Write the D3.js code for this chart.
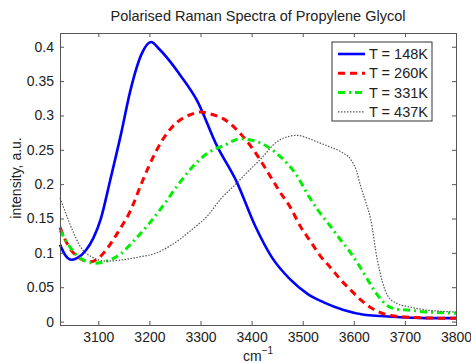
<!DOCTYPE html>
<html>
<head>
<meta charset="utf-8">
<script src="https://cdn.jsdelivr.net/npm/d3@7"></script>
<style>
  body { margin: 0; background: #fff; }
  text { font-family: "Liberation Sans", Arial, sans-serif; fill: #222; }
</style>
</head>
<body>
<div id="chart"></div>
<script>
// wavenumber / intensity pairs
var wn148 = [3025, 3035, 3048, 3060, 3075, 3090, 3105, 3123, 3145, 3162, 3185, 3203, 3220, 3241, 3260, 3293, 3332, 3371, 3407, 3440, 3476, 3510, 3541, 3580, 3620, 3652, 3700, 3750, 3800];
var i148 = [0.112, 0.097, 0.090, 0.093, 0.103, 0.121, 0.150, 0.205, 0.275, 0.334, 0.390, 0.407, 0.396, 0.378, 0.359, 0.322, 0.256, 0.203, 0.139, 0.093, 0.061, 0.040, 0.028, 0.017, 0.010, 0.008, 0.006, 0.005, 0.005];

var wn260 = [3025, 3040, 3060, 3084, 3100, 3116, 3140, 3162, 3185, 3200, 3227, 3254, 3280, 3300, 3320, 3345, 3380, 3411, 3436, 3456, 3476, 3495, 3515, 3535, 3555, 3574, 3595, 3613, 3632, 3652, 3680, 3720, 3760, 3800];
var i260 = [0.137, 0.112, 0.094, 0.087, 0.092, 0.105, 0.132, 0.160, 0.202, 0.228, 0.266, 0.290, 0.301, 0.305, 0.302, 0.295, 0.272, 0.242, 0.212, 0.188, 0.166, 0.139, 0.117, 0.095, 0.078, 0.061, 0.045, 0.032, 0.021, 0.013, 0.008, 0.006, 0.005, 0.005];

var wn331 = [3025, 3045, 3065, 3094, 3120, 3143, 3170, 3201, 3230, 3260, 3293, 3320, 3345, 3378, 3400, 3423, 3440, 3462, 3489, 3509, 3530, 3554, 3575, 3594, 3610, 3627, 3645, 3666, 3685, 3705, 3740, 3770, 3800];
var i331 = [0.133, 0.108, 0.092, 0.085, 0.089, 0.098, 0.118, 0.144, 0.172, 0.203, 0.232, 0.248, 0.256, 0.266, 0.264, 0.258, 0.250, 0.236, 0.212, 0.186, 0.162, 0.139, 0.118, 0.100, 0.082, 0.061, 0.040, 0.023, 0.018, 0.017, 0.014, 0.013, 0.012];

var wn437 = [3025, 3035, 3050, 3064, 3085, 3116, 3148, 3180, 3214, 3240, 3260, 3280, 3315, 3339, 3369, 3395, 3417, 3450, 3476, 3489, 3510, 3530, 3554, 3575, 3594, 3605, 3613, 3623, 3633, 3646, 3656, 3666, 3685, 3705, 3740, 3770, 3800];
var i437 = [0.180, 0.160, 0.132, 0.110, 0.095, 0.088, 0.090, 0.094, 0.100, 0.110, 0.120, 0.132, 0.155, 0.178, 0.200, 0.220, 0.236, 0.262, 0.270, 0.271, 0.267, 0.261, 0.254, 0.247, 0.236, 0.220, 0.198, 0.175, 0.149, 0.090, 0.058, 0.038, 0.026, 0.022, 0.017, 0.015, 0.014];

var labels = ['T = 148K', 'T = 260K', 'T = 331K', 'T = 437K'];
var xTicks = [3100, 3200, 3300, 3400, 3500, 3600, 3700, 3800];
var yTicks = [0, 0.05, 0.1, 0.15, 0.2, 0.25, 0.3, 0.35, 0.4];

var width = 471, height = 363;
var margin = {left: 60, right: 15, top: 33, bottom: 38};
var fs = '14px';

var svg = d3.select('#chart').append('svg')
    .attr('width', width).attr('height', height);

var x = d3.scaleLinear().domain([3025, 3800]).range([margin.left, width - margin.right]);
var y = d3.scaleLinear().domain([-0.005, 0.42]).range([height - margin.bottom, margin.top]);

var series = [
    {wn: wn148, val: i148, color: '#0000ff', w: 2.6, dash: null},
    {wn: wn260, val: i260, color: '#ff0000', w: 3, dash: '7,5'},
    {wn: wn331, val: i331, color: '#00ee00', w: 3, dash: '7,4,2,4'},
    {wn: wn437, val: i437, color: '#555555', w: 1.2, dash: '1.5,1.5'}
];

var line = d3.line()
    .x(function(d) { return x(d[0]); })
    .y(function(d) { return y(d[1]); })
    .curve(d3.curveMonotoneX);

series.forEach(function(s) {
    svg.append('path')
        .datum(d3.zip(s.wn, s.val))
        .attr('d', line)
        .attr('fill', 'none')
        .attr('stroke', s.color)
        .attr('stroke-width', s.w)
        .attr('stroke-dasharray', s.dash);
});

// axes, ticks inward on all four sides
var tl = 4;
svg.append('g').attr('transform', 'translate(0,' + y.range()[0] + ')')
    .call(d3.axisBottom(x).tickValues(xTicks).tickSize(-tl).tickPadding(7).tickFormat(d3.format('d')));
svg.append('g').attr('transform', 'translate(0,' + y.range()[1] + ')')
    .call(d3.axisTop(x).tickValues(xTicks).tickSize(-tl).tickFormat(''));
svg.append('g').attr('transform', 'translate(' + x.range()[0] + ',0)')
    .call(d3.axisLeft(y).tickValues(yTicks).tickSize(-tl).tickPadding(6).tickFormat(function(d) { return d3.format('')(+d.toFixed(2)); }));
svg.append('g').attr('transform', 'translate(' + x.range()[1] + ',0)')
    .call(d3.axisRight(y).tickValues(yTicks).tickSize(-tl).tickFormat(''));

svg.selectAll('.domain, .tick line').attr('stroke', '#555');
svg.selectAll('.tick text').style('font-size', fs).attr('fill', '#222')
    .style('font-family', '"Liberation Sans", Arial, sans-serif');

// title and labels
svg.append('text').attr('x', 258).attr('y', 21).attr('text-anchor', 'middle')
    .style('font-size', '14.5px').text('Polarised Raman Spectra of Propylene Glycol');
svg.append('text').attr('transform', 'translate(21,178) rotate(-90)')
    .attr('text-anchor', 'middle').style('font-size', fs).text('intensity, a.u.');
var xl = svg.append('text').attr('x', 258).attr('y', 361).attr('text-anchor', 'middle')
    .style('font-size', fs);
xl.append('tspan').text('cm');
xl.append('tspan').attr('dy', -7).style('font-size', '10px').text('\u22121');

// legend
var lg = svg.append('g').attr('transform', 'translate(332,42)');
lg.append('rect').attr('width', 100).attr('height', 79)
    .attr('fill', '#fff').attr('stroke', '#333').attr('stroke-width', 1);
series.forEach(function(s, i) {
    var yy = 12 + i * 19.3;
    lg.append('line').attr('x1', 6).attr('x2', 33).attr('y1', yy).attr('y2', yy)
        .attr('stroke', s.color).attr('stroke-width', s.w).attr('stroke-dasharray', s.dash);
    lg.append('text').attr('x', 37).attr('y', yy + 5).style('font-size', '14.5px').text(labels[i]);
});
</script>
</body>
</html>
